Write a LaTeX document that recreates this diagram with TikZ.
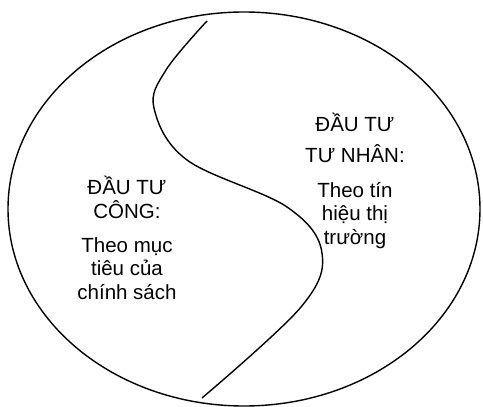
\documentclass[tikz,border=0pt]{standalone}
\usepackage{fontspec}
\setmainfont{Liberation Sans}

\begin{document}
\begin{tikzpicture}[x=1pt,y=-1pt]
      \tikzstyle{every node}+=[inner sep=0pt, align=center, anchor=base, font=\fontsize{20.5}{23.5}\selectfont]
      \useasboundingbox (0,0) rectangle (483,407);
      \draw [black, line width=1.4pt] (244,209) ellipse [x radius=236, y radius=197];
      \draw [black, line width=1.4pt] plot [smooth, tension=0.6] coordinates {(207,21) (166,70) (154,108) (187,160) (287,207) (322,253) (301,307) (202,398)};
      \node (congtitle) at (127,218) {ĐẦU TƯ\\CÔNG:};
      \node (congtext) at (127,299) {Theo mục\\tiêu của\\chính sách};
      \node (tutitle) at (355,162) {ĐẦU TƯ\\[7.5pt]TƯ NHÂN:};
      \node (tutext) at (355,244) {Theo tín\\hiệu thị\\trường};
\end{tikzpicture}
\end{document}
